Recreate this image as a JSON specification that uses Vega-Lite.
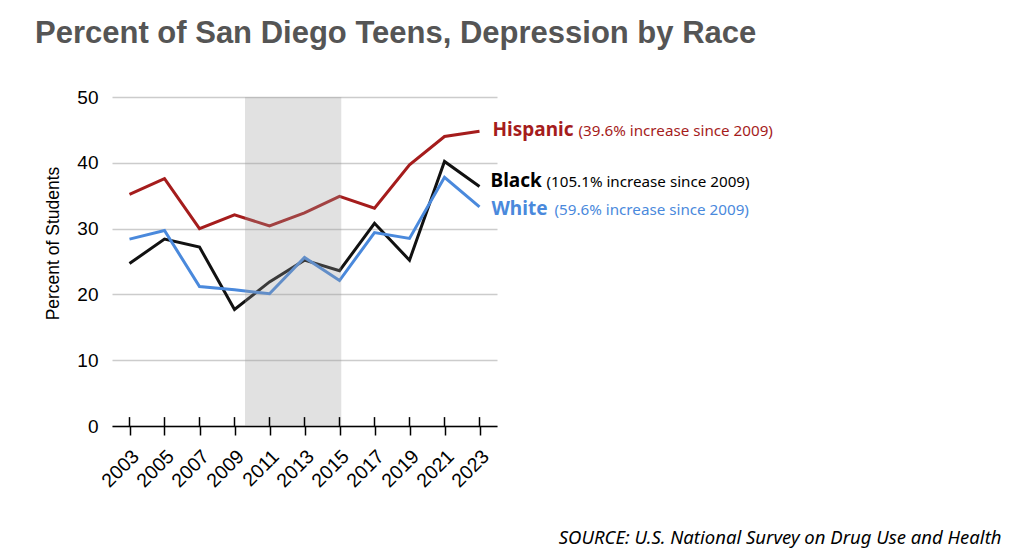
{
  "$schema": "https://vega.github.io/schema/vega-lite/v6.json",
  "autosize": {"type": "none"},
  "width": 385,
  "height": 329,
  "padding": {"left": 112, "top": 97, "right": 527, "bottom": 130},
  "background": "white",
  "config": {"view": {"stroke": null}, "font": "Liberation Sans", "axisX": {"labelOverlap": false}},
  "title": {
    "text": "Percent of San Diego Teens, Depression by Race",
    "anchor": "start",
    "frame": "group",
    "font": "Liberation Sans",
    "fontSize": 31,
    "fontWeight": "bold",
    "color": "#555555",
    "baseline": "alphabetic",
    "dx": -77,
    "offset": 14
  },
  "datasets": {
    "series": [
      {"year": 2003, "race": "Hispanic", "pct": 35.2},
      {"year": 2005, "race": "Hispanic", "pct": 37.6},
      {"year": 2007, "race": "Hispanic", "pct": 30.0},
      {"year": 2009, "race": "Hispanic", "pct": 32.1},
      {"year": 2011, "race": "Hispanic", "pct": 30.4},
      {"year": 2013, "race": "Hispanic", "pct": 32.4},
      {"year": 2015, "race": "Hispanic", "pct": 34.9},
      {"year": 2017, "race": "Hispanic", "pct": 33.1},
      {"year": 2019, "race": "Hispanic", "pct": 39.7},
      {"year": 2021, "race": "Hispanic", "pct": 44.0},
      {"year": 2023, "race": "Hispanic", "pct": 44.8},
      {"year": 2003, "race": "Black", "pct": 24.7},
      {"year": 2005, "race": "Black", "pct": 28.4},
      {"year": 2007, "race": "Black", "pct": 27.2},
      {"year": 2009, "race": "Black", "pct": 17.7},
      {"year": 2011, "race": "Black", "pct": 21.9},
      {"year": 2013, "race": "Black", "pct": 25.2},
      {"year": 2015, "race": "Black", "pct": 23.6},
      {"year": 2017, "race": "Black", "pct": 30.8},
      {"year": 2019, "race": "Black", "pct": 25.2},
      {"year": 2021, "race": "Black", "pct": 40.2},
      {"year": 2023, "race": "Black", "pct": 36.4},
      {"year": 2003, "race": "White", "pct": 28.4},
      {"year": 2005, "race": "White", "pct": 29.7},
      {"year": 2007, "race": "White", "pct": 21.2},
      {"year": 2009, "race": "White", "pct": 20.7},
      {"year": 2011, "race": "White", "pct": 20.1},
      {"year": 2013, "race": "White", "pct": 25.6},
      {"year": 2015, "race": "White", "pct": 22.1},
      {"year": 2017, "race": "White", "pct": 29.4},
      {"year": 2019, "race": "White", "pct": 28.5},
      {"year": 2021, "race": "White", "pct": 37.8},
      {"year": 2023, "race": "White", "pct": 33.3}
    ],
    "labels": [
      {"year": 2023, "race": "Hispanic", "pct": 44.8, "note": "(39.6% increase since 2009)"},
      {"year": 2023, "race": "Black", "pct": 36.4, "note": "(105.1% increase since 2009)"},
      {"year": 2023, "race": "White", "pct": 33.3, "note": "(59.6% increase since 2009)"}
    ],
    "shade": [{"start": 2009.6, "end": 2015.1}]
  },
  "layer": [
    {
      "data": {"name": "series"},
      "mark": {"type": "line", "strokeWidth": 3},
      "encoding": {
        "x": {
          "field": "year", "type": "quantitative",
          "scale": {"domain": [2002, 2024], "nice": false, "zero": false},
          "axis": {
            "values": [2003, 2005, 2007, 2009, 2011, 2013, 2015, 2017, 2019, 2021, 2023],
            "tickCount": 30,
            "format": "d",
            "labelOverlap": false,
            "labelAngle": -45,
            "labelAlign": "right",
            "labelBaseline": "middle",
            "labelFontSize": 19.5,
            "labelFont": "Liberation Sans",
            "labelColor": "#000000",
            "labelPadding": 18,
            "labelOffset": 6,
            "tickColor": "#000000",
            "tickSize": 9,
            "tickWidth": 1.5,
            "domainColor": "#000000",
            "domainWidth": 1.5,
            "grid": false,
            "title": "SOURCE: U.S. National Survey on Drug Use and Health",
            "titleFont": "Noto Sans",
            "titleFontStyle": "italic",
            "titleFontWeight": "normal",
            "titleFontSize": 18.5,
            "titleColor": "#000000",
            "titleAlign": "right",
            "titleBaseline": "middle",
            "titleX": 889,
            "titleY": 111
          }
        },
        "y": {
          "field": "pct", "type": "quantitative",
          "scale": {"domain": [0, 50], "nice": false},
          "axis": {
            "values": [0, 10, 20, 30, 40, 50],
            "tickCount": 30,
            "grid": true,
            "gridColor": "#cccccc",
            "gridWidth": 1.5,
            "ticks": false,
            "domain": false,
            "labelPadding": 14,
            "labelFontSize": 19,
            "labelColor": "#000000",
            "labelFont": "Liberation Sans",
            "title": "Percent of Students",
            "titleFont": "Liberation Sans",
            "titleFontSize": 17.5,
            "titleFontWeight": "normal",
            "titleColor": "#000000",
            "titleY": 146,
            "titlePadding": 14
          }
        },
        "color": {
          "field": "race", "type": "nominal",
          "scale": {"domain": ["Hispanic", "Black", "White"], "range": ["#a51c1c", "#111111", "#4a89dc"]},
          "legend": null
        }
      }
    },
    {
      "data": {"name": "shade"},
      "mark": {"type": "rect", "color": "#9a9a9a", "opacity": 0.3},
      "encoding": {
        "x": {"field": "start", "type": "quantitative"},
        "x2": {"field": "end"},
        "y": {"datum": 0},
        "y2": {"datum": 50}
      }
    },
    {
      "data": {"name": "series"},
      "transform": [{"filter": "datum.race === 'Hispanic'"}],
      "mark": {"type": "rule", "color": "#000000", "strokeWidth": 1.5},
      "encoding": {
        "x": {"field": "year", "type": "quantitative"},
        "y": {"datum": 0},
        "y2": {"datum": 1.35}
      }
    },
    {
      "data": {"name": "labels"},
      "transform": [{"filter": "datum.race === 'Hispanic'"}],
      "layer": [
        {"mark": {"type": "text", "align": "left", "baseline": "alphabetic", "font": "Noto Sans", "fontWeight": "bold", "fontSize": 19, "color": "#a51c1c", "dx": 13, "dy": 4.6},
         "encoding": {"x": {"field": "year", "type": "quantitative"}, "y": {"field": "pct", "type": "quantitative"}, "text": {"field": "race"}}},
        {"mark": {"type": "text", "align": "left", "baseline": "alphabetic", "font": "Noto Sans", "fontSize": 15.2, "color": "#a51c1c", "dx": 99, "dy": 4.6},
         "encoding": {"x": {"field": "year", "type": "quantitative"}, "y": {"field": "pct", "type": "quantitative"}, "text": {"field": "note"}}}
      ]
    },
    {
      "data": {"name": "labels"},
      "transform": [{"filter": "datum.race === 'Black'"}],
      "layer": [
        {"mark": {"type": "text", "align": "left", "baseline": "alphabetic", "font": "Noto Sans", "fontWeight": "bold", "fontSize": 19, "color": "#000000", "dx": 11, "dy": 0.7},
         "encoding": {"x": {"field": "year", "type": "quantitative"}, "y": {"field": "pct", "type": "quantitative"}, "text": {"field": "race"}}},
        {"mark": {"type": "text", "align": "left", "baseline": "alphabetic", "font": "Noto Sans", "fontSize": 15.2, "color": "#000000", "dx": 67, "dy": 0.7},
         "encoding": {"x": {"field": "year", "type": "quantitative"}, "y": {"field": "pct", "type": "quantitative"}, "text": {"field": "note"}}}
      ]
    },
    {
      "data": {"name": "labels"},
      "transform": [{"filter": "datum.race === 'White'"}],
      "layer": [
        {"mark": {"type": "text", "align": "left", "baseline": "alphabetic", "font": "Noto Sans", "fontWeight": "bold", "fontSize": 19, "color": "#4a89dc", "dx": 12, "dy": 8},
         "encoding": {"x": {"field": "year", "type": "quantitative"}, "y": {"field": "pct", "type": "quantitative"}, "text": {"field": "race"}}},
        {"mark": {"type": "text", "align": "left", "baseline": "alphabetic", "font": "Noto Sans", "fontSize": 15.2, "color": "#4a89dc", "dx": 75, "dy": 8},
         "encoding": {"x": {"field": "year", "type": "quantitative"}, "y": {"field": "pct", "type": "quantitative"}, "text": {"field": "note"}}}
      ]
    }
  ]
}
